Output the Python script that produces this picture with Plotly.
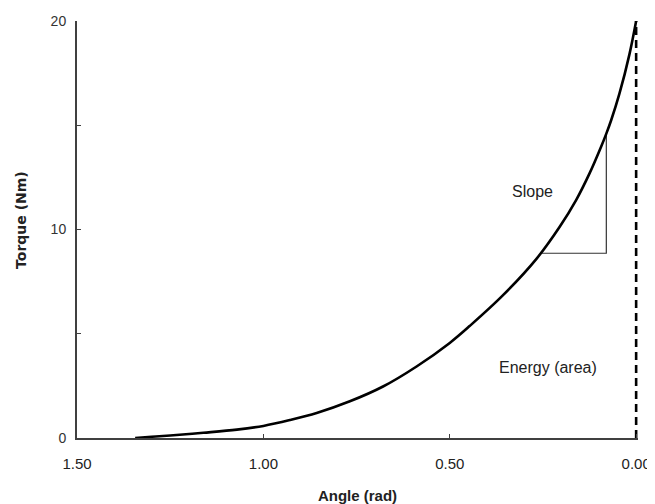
import plotly.graph_objects as go

# Torque-angle curve
angle = [1.344, 1.30, 1.25, 1.161, 1.071, 1.00, 0.929, 0.857, 0.768, 0.679, 0.589,
         0.50, 0.446, 0.357, 0.268, 0.205, 0.161, 0.125, 0.094, 0.08, 0.067,
         0.045, 0.018, 0.0]
torque = [0.0, 0.06, 0.12, 0.25, 0.40, 0.58, 0.86, 1.2, 1.76, 2.47, 3.43,
          4.56, 5.38, 6.85, 8.58, 10.13, 11.41, 12.69, 13.97, 14.6, 15.24,
          16.5, 18.4, 20.0]

# Vertical dashed line at zero angle
dash_x = [0.0, 0.0]
dash_y = [0.0, 20.0]

# Slope triangle
slope_x = [0.254, 0.08, 0.08]
slope_y = [8.86, 8.86, 14.6]

# Ticks
x_ticks = [1.5, 1.0, 0.5, 0.0]
x_ticktext = ["1.50", "1.00", "0.50", "0.00"]
y_ticks = [0, 5, 10, 15, 20]
y_ticktext = ["0", "", "10", "", "20"]

# Annotation positions/labels
notes = ["Slope", "Energy (area)"]
notes_x = [0.278, 0.2375]
notes_y = [11.8, 3.37]

fig = go.Figure()
fig.add_trace(go.Scatter(x=slope_x, y=slope_y, mode="lines",
                         line=dict(color="#333333", width=1.2),
                         hoverinfo="skip", cliponaxis=False))
fig.add_trace(go.Scatter(x=angle, y=torque, mode="lines",
                         line=dict(color="black", width=2.6, shape="spline", smoothing=1.0),
                         cliponaxis=False))
fig.add_trace(go.Scatter(x=dash_x, y=dash_y, mode="lines",
                         line=dict(color="black", width=2.6, dash="8px,5px"),
                         cliponaxis=False))

for t, ax_, ay_ in zip(notes, notes_x, notes_y):
    fig.add_annotation(x=ax_, y=ay_, text=t, showarrow=False,
                       font=dict(family="Liberation Sans, Arial", size=16, color="#222222"))

# y-axis title (placed slightly above the plot centre, as in the reference)
fig.add_annotation(xref="paper", yref="paper", x=0, y=0.523, xshift=-56,
                   text="<b>Torque (Nm)</b>", textangle=-90, showarrow=False,
                   xanchor="center", yanchor="middle",
                   font=dict(family="DejaVu Sans", size=14, color="#222222"))

# The page places the figure 8px in from the top-left corner
fig.update_layout(
    width=647, height=496,
    margin=dict(l=69, r=17, t=13, b=66),
    paper_bgcolor="white", plot_bgcolor="white",
    showlegend=False,
    xaxis=dict(range=[1.5, -0.005], tickvals=x_ticks, ticktext=x_ticktext,
               automargin=False,
               showgrid=False, zeroline=False, showline=True,
               linecolor="#404040", linewidth=2,
               ticks="inside", ticklen=4, tickcolor="#404040", tickwidth=1,
               ticklabelstandoff=11,
               tickfont=dict(family="Liberation Sans Narrow, Liberation Sans", size=15, color="#222222"),
               title=dict(text="<b>Angle (rad)</b>", standoff=20,
                          font=dict(family="Liberation Sans Narrow, Liberation Sans", size=15, color="#222222"))),
    yaxis=dict(range=[0, 20], tickvals=y_ticks, ticktext=y_ticktext,
               automargin=False,
               showgrid=False, zeroline=False, showline=True,
               linecolor="#404040", linewidth=2,
               ticks="inside", ticklen=4, tickcolor="#404040", tickwidth=1,
               ticklabelstandoff=6,
               tickfont=dict(family="Liberation Sans, Arial", size=14, color="#333333")),
)

fig.write_html("out.html")
